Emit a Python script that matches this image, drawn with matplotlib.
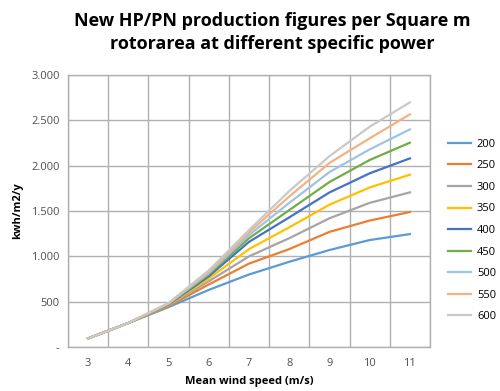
import numpy as np
import matplotlib
matplotlib.use("Agg")
import matplotlib.pyplot as plt

# wind speeds (m/s) and specific power classes
wind = [3, 4, 5, 6, 7, 8, 9, 10, 11]
classes = ["200", "250", "300", "350", "400", "450", "500", "550", "600"]

# kwh/m2/y per class
p200 = [95, 265, 440, 630, 800, 940, 1070, 1180, 1246]
p250 = [95, 265, 450, 690, 920, 1080, 1270, 1395, 1489]
p300 = [95, 265, 460, 725, 1000, 1200, 1420, 1590, 1706]
p350 = [95, 265, 465, 755, 1080, 1320, 1570, 1760, 1901]
p400 = [95, 265, 470, 780, 1160, 1430, 1705, 1916, 2081]
p450 = [95, 265, 475, 800, 1200, 1510, 1820, 2063, 2254]
p500 = [95, 265, 478, 815, 1235, 1590, 1930, 2180, 2401]
p550 = [95, 265, 482, 830, 1265, 1660, 2030, 2302, 2567]
p600 = [95, 265, 486, 845, 1290, 1720, 2105, 2430, 2699]
series = [p200, p250, p300, p350, p400, p450, p500, p550, p600]

colors = ["#5B9BD5", "#ED7D31", "#A5A5A5", "#FFC000", "#4472C4",
          "#70AD47", "#9DC3E6", "#F4B183", "#C9C9C9"]

plt.rcParams['font.family'] = ['Open Sans', 'DejaVu Sans']

fig = plt.figure(figsize=(5, 3.91), dpi=100)
ax = fig.add_axes([0.136, 0.1125, 0.724, 0.6955])

x = np.arange(len(wind))
for vals, name, c in zip(series, classes, colors):
    ax.plot(x, vals, color=c, lw=1.6, label=name)

ax.set_xlim(-0.5, len(wind) - 0.5)
ax.set_ylim(0, 3000)
ax.set_xticks(x)
ax.set_xticklabels([str(w) for w in wind])
ax.set_xticks(np.arange(-0.5, len(wind), 1), minor=True)
yt = np.arange(0, 3001, 500)
ax.set_yticks(yt)
ax.set_yticklabels(["-"] + [f"{v:,}".replace(",", ".") for v in yt[1:]])

ax.grid(True, which="minor", axis="x", color="#B0B0B0", lw=1)
ax.grid(True, which="major", axis="y", color="#B0B0B0", lw=1)
ax.tick_params(which="both", length=0, labelsize=8, colors="#505050", pad=8)
ax.tick_params(axis="y", pad=6)
for s in ax.spines.values():
    s.set_color("#B0B0B0")
    s.set_linewidth(1)
ax.set_axisbelow(True)

ax.set_xlabel("Mean wind speed (m/s)", fontsize=8, fontweight="bold", labelpad=5)
ax.set_ylabel("kwh/m2/y", fontsize=8, fontweight="bold", labelpad=6)

fig.text(0.544, 0.97, "New HP/PN production figures per Square m\nrotorarea at different specific power",
         ha="center", va="top", fontsize=13, fontweight="bold", linespacing=1.4)

ax.legend(loc="upper left", bbox_to_anchor=(0.896, 0.645), bbox_transform=fig.transFigure,
          frameon=False, borderpad=0, borderaxespad=0, fontsize=8, handlelength=2.1,
          labelspacing=0.95, handletextpad=0.5)

fig.savefig("out.png", dpi=100)
